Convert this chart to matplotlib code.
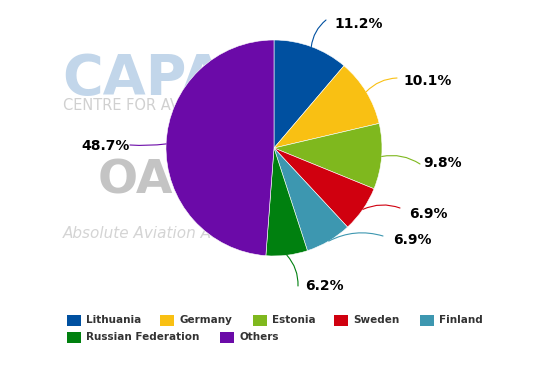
import matplotlib
matplotlib.use("Agg")
import matplotlib.pyplot as plt
import numpy as np

categories = ["Lithuania", "Germany", "Estonia", "Sweden", "Finland", "Russian Federation", "Others"]
values = [11.2, 10.1, 9.8, 6.9, 6.9, 6.2, 48.7]
labels = ["11.2%", "10.1%", "9.8%", "6.9%", "6.9%", "6.2%", "48.7%"]
colors = ["#0050A0", "#F9C013", "#7FB81E", "#D0000F", "#3D97B0", "#00800F", "#6B0AA8"]

W, H = 549, 366
fig = plt.figure(figsize=(W / 100, H / 100), dpi=100)
ax = fig.add_axes([0, 0, 1, 1])
ax.set_xlim(0, W)
ax.set_ylim(0, H)
ax.set_aspect("equal")
ax.axis("off")

def Y(py):
    return H - py

# watermark
ax.text(62, Y(94), "CAPA", fontsize=40, fontweight="heavy", color="#c2d6ea",
        ha="left", va="baseline", zorder=0, family="DejaVu Sans")
ax.text(63, Y(110), "CENTRE FOR AVIATION", fontsize=10.5, color="#d0d0d0",
        ha="left", va="baseline", zorder=0)
ax.text(98, Y(193), "OA", fontsize=34, fontweight="bold", color="#c4c4c4",
        ha="left", va="baseline", zorder=0)
ax.text(63, Y(238), "Absolute Aviation Advantage", fontsize=11, style="italic",
        color="#d4d4d4", ha="left", va="baseline", zorder=0)

cx, cy, r = 274, Y(148), 108
wedges, _ = ax.pie(values, colors=colors, startangle=90, counterclock=False,
                   center=(cx, cy), radius=r, frame=True,
                   wedgeprops=dict(linewidth=0.4, edgecolor="white"))
for w in wedges:
    w.set_zorder(2)
ax.set_xlim(0, W)
ax.set_ylim(0, H)
ax.axis("off")

# label text positions (pixel) and leader ends
label_pos = [(359, 24), (428, 81), (443, 163), (428, 214), (412, 240), (324, 286), (106, 146)]
leader_end = [(326, 20), (397, 78), (420, 164), (400, 208), (383, 236), (298, 286), (130, 145)]

cum = 0
for i, v in enumerate(values):
    mid = 90 - (cum + v / 2) / sum(values) * 360
    cum += v
    a = np.deg2rad(mid)
    sx, sy = cx + r * np.cos(a), cy + r * np.sin(a)
    ex, ey = leader_end[i]
    ax.annotate("", xy=(sx, sy), xytext=(ex, Y(ey)),
                arrowprops=dict(arrowstyle="-", color=colors[i], lw=0.8,
                                connectionstyle="arc3,rad=0.2" if i != 6 else "arc3,rad=0.05",
                                shrinkA=0, shrinkB=0), zorder=3)
    tx, ty = label_pos[i]
    ax.text(tx, Y(ty), labels[i], fontsize=10, fontweight="bold", color="black",
            ha="center", va="center", zorder=4)

# legend (drawn manually)
leg_sw = [(67, 320), (160, 320), (253, 320), (334, 320), (420, 320), (67, 337), (220, 337)]
for i, name in enumerate(categories):
    x, y = leg_sw[i]
    ax.add_patch(plt.Rectangle((x, Y(y) - 5.5), 14, 11, facecolor=colors[i],
                               edgecolor="none", zorder=4))
    ax.text(x + 19, Y(y), name, fontsize=7.5, fontweight="bold", color="#333333",
            ha="left", va="center", zorder=4)

fig.savefig("out.png", dpi=100)
